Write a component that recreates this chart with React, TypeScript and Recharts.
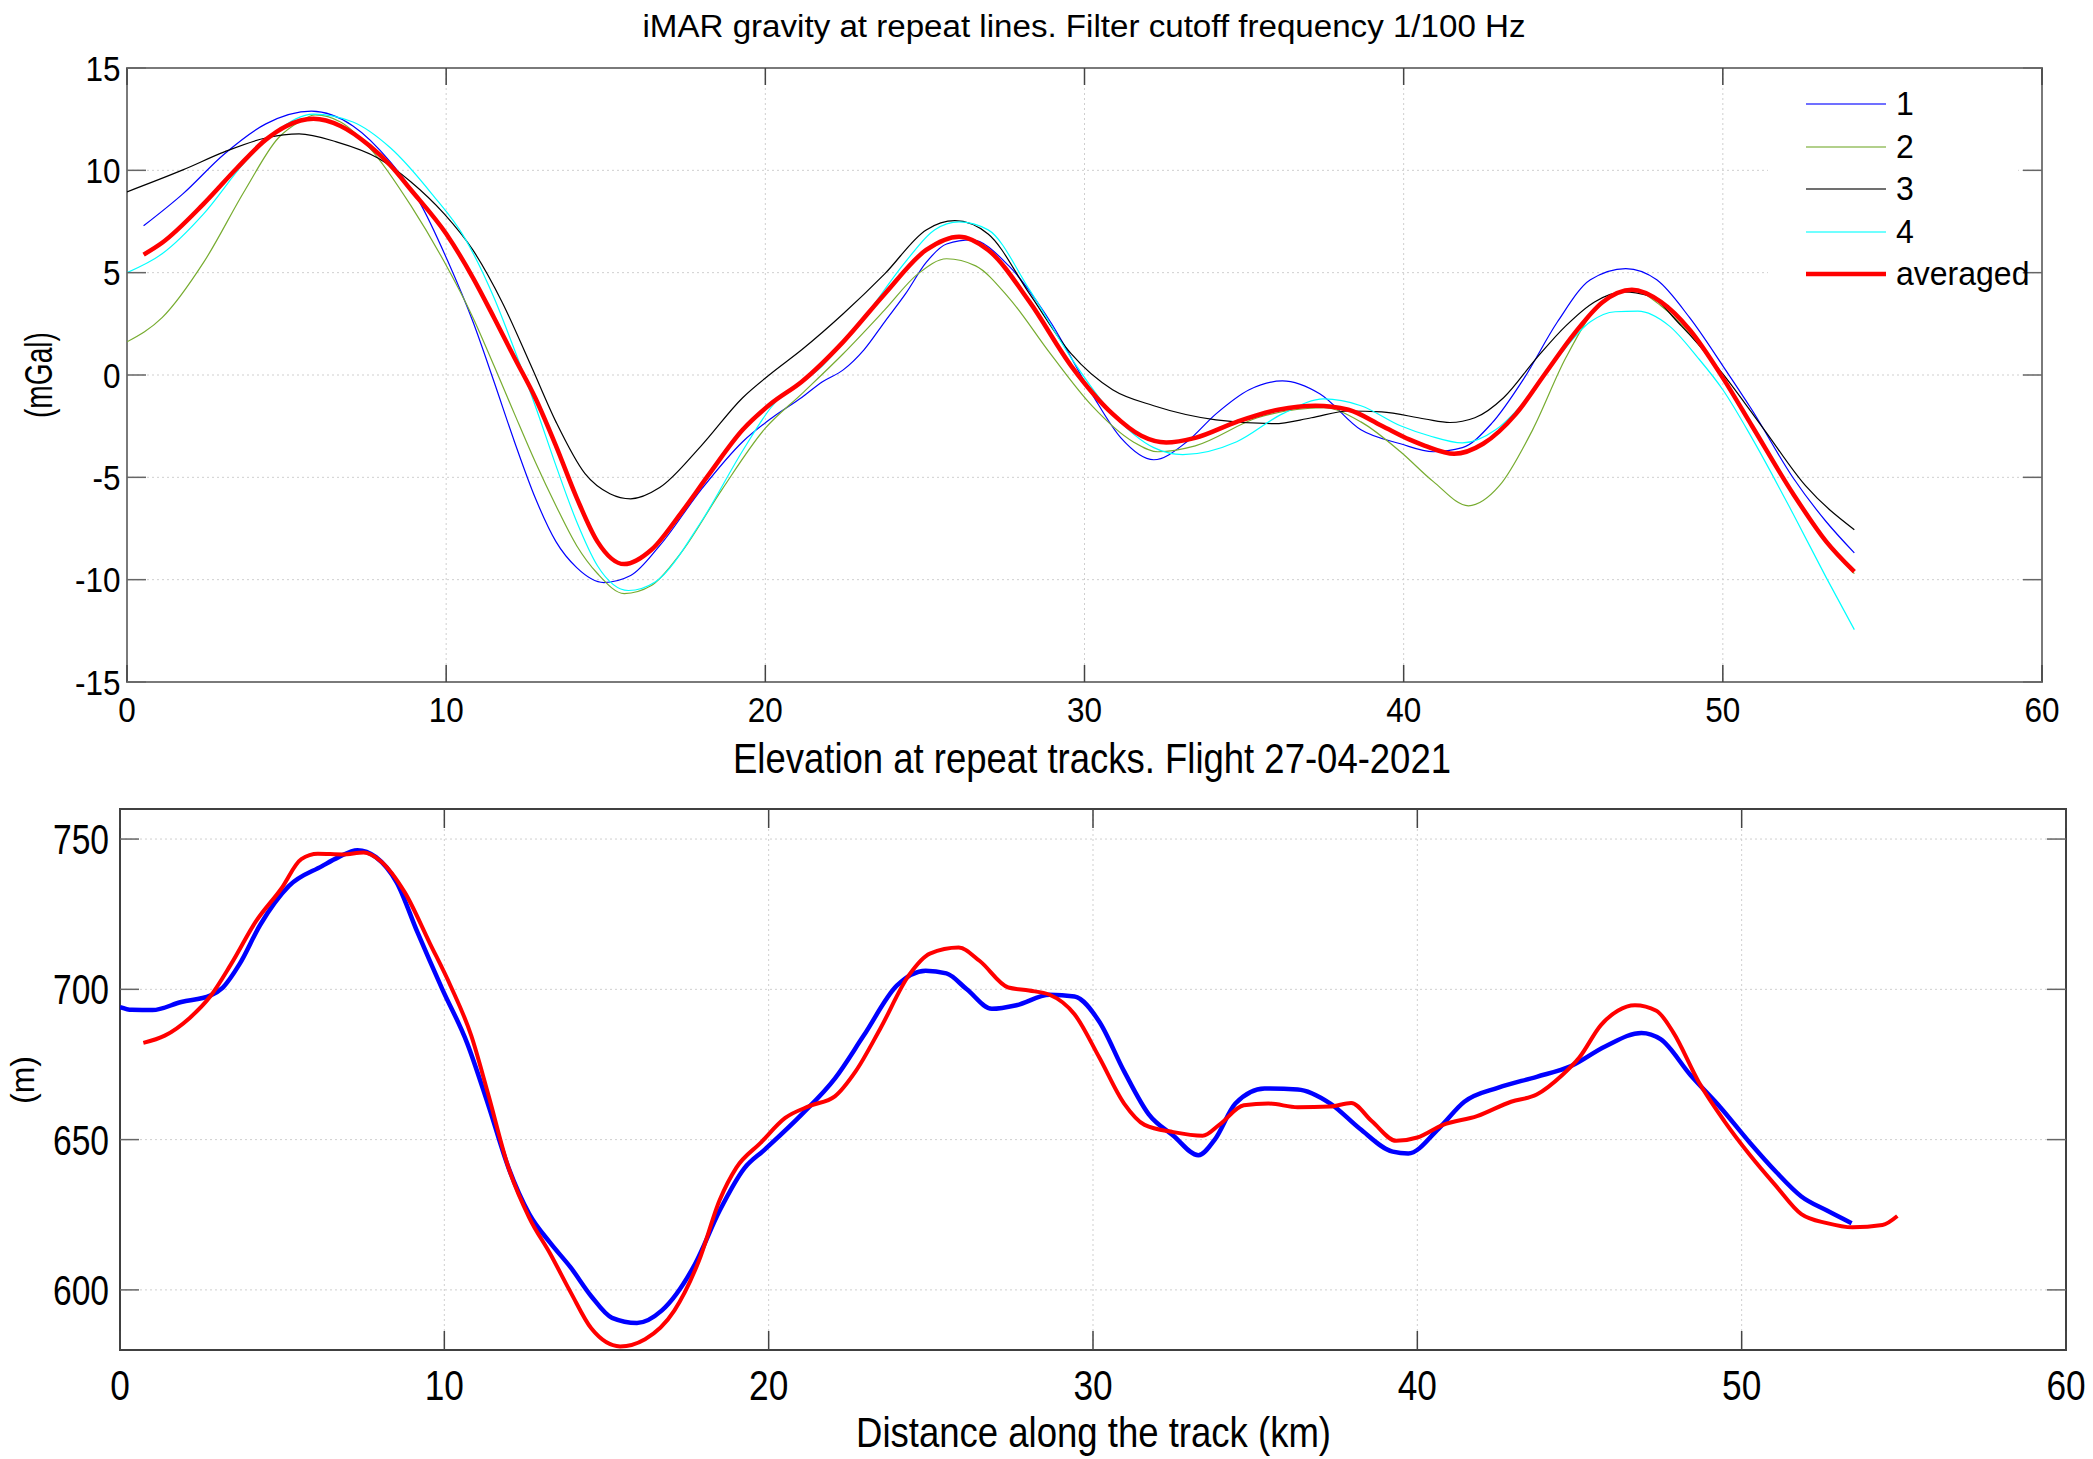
import React from 'react';
import { LineChart, Line, XAxis, YAxis, CartesianGrid, ReferenceArea, Legend } from 'recharts';

const FONT = '"Liberation Sans", Arial, Helvetica, sans-serif';

// ---- tick labels ----
const distTicks = [0, 10, 20, 30, 40, 50, 60];
const gravityTicks = [-15, -10, -5, 0, 5, 10, 15];
const elevationTicks = [600, 650, 700, 750];

// ---- gravity (mGal) vs distance (km), repeat lines 1..4 and averaged ----
const run1: [number, number][] = [
  [0.52, 7.29], [1.75, 8.85], [3.05, 10.8], [4.35, 12.27], [5.78, 12.89], [7.08, 12.17], [8.25, 10.41],
  [9.16, 8.46], [10.06, 5.53], [10.84, 2.6], [11.5, -0.33], [12.14, -3.26], [12.79, -6.0], [13.44, -8.14],
  [14.09, -9.41], [14.94, -10.14], [15.78, -9.8], [16.69, -8.34], [17.99, -5.6], [19.29, -3.26], [20.2, -2.1],
  [21.14, -1.1], [21.79, -0.33], [22.44, 0.25], [23.09, 1.23], [23.74, 2.6], [24.39, 3.96], [25.04, 5.5],
  [25.68, 6.4], [26.46, 6.6], [27.63, 5.33], [28.93, 2.6], [30.23, -0.92], [31.14, -3.07], [32.17, -4.14],
  [33.21, -3.26], [34.12, -1.9], [35.16, -0.72], [36.2, -0.29], [37.37, -0.92], [38.66, -2.68], [39.9, -3.36],
  [40.93, -3.75], [41.84, -3.55], [42.75, -2.38], [43.78, -0.14], [44.82, 2.6], [45.85, 4.65], [46.96, 5.2],
  [47.93, 4.65], [48.96, 2.8], [50.0, 0.45], [50.91, -1.7], [52.2, -5.02], [53.24, -7.17], [54.12, -8.69],
];
const run2: [number, number][] = [
  [0, 1.62], [1.1, 2.8], [2.4, 5.5], [3.7, 9.04], [4.74, 11.58], [5.39, 12.36], [5.9, 12.71], [6.69, 12.36],
  [7.6, 11.1], [8.9, 8.26], [9.94, 5.53], [10.84, 2.8], [11.5, 0.45], [12.14, -1.9], [12.79, -4.24],
  [13.44, -6.39], [14.09, -8.34], [14.74, -9.7], [15.58, -10.68], [16.43, -10.29], [17.34, -8.73],
  [18.64, -5.6], [20.0, -2.6], [21.14, -0.92], [22.44, 1.04], [23.74, 3.18], [24.78, 4.94], [25.68, 5.68],
  [26.59, 5.33], [27.63, 3.77], [28.93, 1.04], [30.23, -1.5], [31.52, -3.26], [32.3, -3.75], [33.47, -3.46],
  [35.42, -2.09], [37.5, -1.6], [38.66, -2.29], [39.9, -3.75], [40.93, -5.21], [42.03, -6.39], [43.0, -5.41],
  [44.04, -2.68], [45.08, 0.84], [46.11, 3.38], [47.15, 4.16], [48.06, 3.38], [48.96, 2.01], [50.0, -0.14],
  [50.91, -2.48], [52.2, -5.8], [53.24, -8.14], [54.12, -9.71],
];
const run3: [number, number][] = [
  [0, 8.95], [1.75, 10.02], [3.05, 10.9], [4.35, 11.58], [5.39, 11.78], [6.56, 11.39], [7.86, 10.6],
  [8.9, 9.43], [9.94, 7.87], [10.84, 6.1], [11.75, 3.57], [12.66, 0.45], [13.44, -2.29], [14.35, -4.82],
  [15.13, -5.8], [15.78, -6.05], [16.69, -5.5], [17.99, -3.46], [19.29, -1.11], [20.17, 0.06], [21.14, 1.23],
  [22.44, 2.99], [23.74, 4.94], [25.04, 7.09], [25.94, 7.54], [26.98, 6.89], [28.28, 3.96], [29.58, 1.04],
  [30.88, -0.72], [32.17, -1.5], [34.12, -2.19], [35.94, -2.38], [37.11, -2.09], [38.27, -1.76],
  [39.31, -1.8], [40.67, -2.15], [41.45, -2.32], [42.23, -2.09], [43.13, -1.11], [44.17, 0.84], [45.08, 2.4],
  [45.98, 3.57], [46.89, 4.06], [47.67, 3.87], [48.7, 2.4], [50.0, 0.06], [51.3, -2.68], [52.59, -5.41],
  [54.12, -7.56],
];
const run4: [number, number][] = [
  [0, 5.0], [1.1, 5.92], [2.4, 7.87], [3.7, 10.41], [4.74, 11.97], [5.84, 12.75], [7.08, 12.36], [8.25, 11.1],
  [9.55, 8.85], [10.58, 6.7], [11.5, 3.77], [12.14, 1.23], [12.79, -1.5], [13.44, -4.43], [14.09, -7.17],
  [14.74, -9.32], [15.71, -10.53], [16.56, -10.1], [17.99, -7.17], [19.29, -3.7], [20.17, -1.6],
  [21.79, 0.45], [23.09, 2.8], [24.39, 5.53], [25.3, 7.09], [26.07, 7.48], [26.98, 7.09], [28.28, 4.16],
  [29.58, 0.84], [30.88, -1.9], [32.17, -3.55], [33.08, -3.89], [34.77, -3.26], [36.2, -1.9], [37.5, -1.17],
  [38.66, -1.5], [39.9, -2.48], [40.8, -2.97], [41.84, -3.32], [42.88, -2.68], [43.78, -1.31], [44.82, 0.84],
  [45.85, 2.6], [46.63, 3.09], [47.34, 3.12], [48.32, 2.4], [49.22, 0.84], [50.0, -0.72], [50.91, -3.07],
  [52.2, -6.78], [53.24, -9.9], [54.12, -12.44],
];
const runAveraged: [number, number][] = [
  [0.52, 5.88], [1.1, 6.46], [2.4, 8.36], [3.44, 10.1], [4.35, 11.5], [5.0, 12.17], [5.84, 12.52],
  [6.69, 12.17], [7.6, 11.2], [8.25, 10.25], [8.9, 9.04], [10, 6.9], [10.84, 4.75], [11.5, 2.8], [12.14, 0.84],
  [12.79, -1.11], [13.44, -3.46], [14.09, -6.0], [14.74, -8.14], [15.58, -9.24], [16.43, -8.54],
  [17.34, -6.78], [18.25, -4.82], [19.29, -2.68], [20.17, -1.41], [21.14, -0.33], [22.44, 1.62],
  [23.74, 3.96], [25.04, 6.11], [26.07, 6.76], [26.98, 6.11], [28.28, 3.57], [29.58, 0.45], [30.88, -1.9],
  [31.78, -2.97], [32.56, -3.3], [33.47, -3.07], [34.77, -2.29], [36.07, -1.7], [37.24, -1.5], [38.27, -1.7],
  [39.31, -2.48], [40.19, -3.16], [40.67, -3.46], [41.58, -3.85], [42.49, -3.36], [43.52, -1.9],
  [44.43, 0.06], [45.34, 2.01], [46.24, 3.57], [47.15, 4.16], [48.06, 3.57], [48.96, 2.21], [50.0, -0.14],
  [50.91, -2.48], [52.2, -5.8], [53.24, -8.14], [54.12, -9.61],
];

// ---- elevation (m) vs distance (km) ----
const elevationBlue: [number, number][] = [
  [0, 694.1], [0.36, 693.2], [1.0, 693.1], [1.89, 695.8], [2.78, 697.9], [3.17, 700.6], [3.68, 708.3],
  [4.32, 721.4], [5.21, 734.4], [6.23, 741], [6.74, 744], [7.32, 746.3], [7.89, 744], [8.53, 735.6],
  [9.17, 719], [9.94, 700], [10.7, 682.2], [11.34, 662], [11.98, 640.6], [12.62, 625.2], [13.26, 615.7],
  [13.9, 607.4], [14.53, 597.9], [15.17, 590.7], [15.94, 589], [16.7, 593.1], [17.73, 608.6], [18.49, 626.4],
  [19.26, 640.6], [19.87, 646.6], [21.02, 658.4], [22.04, 670.3], [22.93, 684.6], [23.95, 701.2],
  [24.84, 706.2], [25.48, 705.3], [26.11, 700], [26.88, 693.5], [27.64, 694.7], [28.66, 698.2],
  [29.43, 697.6], [30.19, 689.3], [30.96, 672.7], [31.72, 658.4], [32.48, 651.3], [33.25, 644.8],
  [33.76, 650.1], [34.39, 662], [35.29, 667], [36.31, 666.7], [37.32, 662], [38.22, 653.7], [39.24, 646],
  [39.72, 645.4], [40.66, 653.7], [41.45, 662.6], [42.5, 667.3], [43.68, 670.9], [44.74, 674.5],
  [45.79, 681], [46.91, 685.5], [47.5, 683.4], [48.42, 671.5], [49.34, 660.8], [50.26, 648.9],
  [51.05, 639.4], [51.84, 631.1], [52.63, 626.4], [53.39, 622.2],
];
const elevationRed: [number, number][] = [
  [0.72, 682.2], [1.38, 684.6], [2.15, 690.5], [2.78, 697.6], [3.42, 708.3], [4.19, 722.6], [4.96, 733.3],
  [5.59, 743.3], [6.1, 745.1], [6.87, 744.9], [7.51, 745.5], [8.02, 742.8], [8.79, 732.1], [9.55, 715.4],
  [10.19, 701.2], [10.83, 684.6], [11.34, 665.6], [11.98, 640.6], [12.62, 624], [13.26, 612.1],
  [13.9, 599.1], [14.53, 587.2], [15.42, 581.2], [16.19, 583.6], [17.09, 593.1], [17.85, 609.7],
  [18.49, 629.9], [19.0, 640.6], [19.75, 648.9], [20.51, 657.2], [21.27, 661.2], [22.04, 664.4],
  [22.68, 672.7], [23.44, 686.9], [24.33, 704.8], [24.97, 711.9], [25.86, 713.9], [26.5, 709.5],
  [27.39, 700.6], [28.03, 699.6], [28.66, 698.2], [29.43, 691.7], [30.19, 677.4], [30.96, 662],
  [31.59, 654.9], [32.48, 652.5], [33.38, 651.3], [33.89, 654.9], [34.65, 661.4], [35.41, 662],
  [36.31, 660.8], [37.32, 661], [37.96, 662.2], [38.6, 656.1], [39.35, 649.6], [40.0, 650.7],
  [40.79, 654.9], [41.84, 657.8], [42.89, 662.6], [43.68, 665], [44.47, 671.5], [45.0, 677.4],
  [45.66, 688.1], [46.18, 692.9], [46.71, 694.7], [47.37, 692.9], [47.89, 685.7], [48.68, 669.1],
  [49.47, 656.1], [50.26, 644.8], [51.05, 634.7], [51.84, 625.2], [52.63, 622.2], [53.42, 620.8],
  [54.34, 621.6], [54.8, 624.6],
];

const seriesNames = ['1', '2', '3', '4', 'averaged'];
const seriesColors = ['#0000ff', '#77ac30', '#000000', '#00ffff', '#ff0000'];
const seriesWidths = [1.2, 1.2, 1.2, 1.2, 4.5];
const gravityRuns = [run1, run2, run3, run4, runAveraged];

const toRows = (pts: [number, number][]) => pts.map(([x, y]) => ({ x, y }));

function makeXTick(o: { len: number; plotH: number; base: number; font: number; sx: number; color: string }) {
  return (p: any) => {
    const { x, y, payload } = p;
    return (
      <g>
        <line x1={x} x2={x} y1={y} y2={y - o.len} stroke={o.color} strokeWidth={1.5} />
        <line x1={x} x2={x} y1={y - o.plotH} y2={y - o.plotH + o.len} stroke={o.color} strokeWidth={1.5} />
        <text
          transform={`translate(${x},${y + o.base}) scale(${o.sx},1)`}
          textAnchor="middle"
          fontFamily={FONT}
          fontSize={o.font}
          fill="#000"
        >
          {payload.value}
        </text>
      </g>
    );
  };
}

function makeYTick(o: { len: number; plotW: number; gap: number; font: number; sx: number; color: string }) {
  return (p: any) => {
    const { x, y, payload } = p;
    return (
      <g>
        <line x1={x} x2={x + o.len} y1={y} y2={y} stroke={o.color} strokeWidth={1.5} />
        <line x1={x + o.plotW} x2={x + o.plotW - o.len} y1={y} y2={y} stroke={o.color} strokeWidth={1.5} />
        <text
          transform={`translate(${x - o.gap},${y + o.font * 0.36}) scale(${o.sx},1)`}
          textAnchor="end"
          fontFamily={FONT}
          fontSize={o.font}
          fill="#000"
        >
          {payload.value}
        </text>
      </g>
    );
  };
}

const topXTick = makeXTick({ len: 17, plotH: 614, base: 39.7, font: 35, sx: 0.9, color: '#444' });
const topYTick = makeYTick({ len: 19, plotW: 1915, gap: 6.5, font: 35, sx: 0.9, color: '#666' });
const botXTick = makeXTick({ len: 19, plotH: 541, base: 50, font: 43, sx: 0.82, color: '#444' });
const botYTick = makeYTick({ len: 19, plotW: 1946, gap: 11, font: 42, sx: 0.8, color: '#666' });

function LegendBox() {
  return (
    <div style={{ background: '#fff', paddingTop: 0, paddingBottom: 14, width: 250, fontFamily: FONT }}>
      {seriesNames.map((name, i) => (
        <div key={name} style={{ height: 42.5, display: 'flex', alignItems: 'center', whiteSpace: 'nowrap' }}>
          <svg width={128} height={20} style={{ flex: 'none' }}>
            <line x1={38} x2={118} y1={10} y2={10} stroke={seriesColors[i]} strokeWidth={i === 4 ? 4.5 : 1.5} strokeOpacity={i === 4 ? 1 : 0.75} />
          </svg>
          <span style={{ fontSize: 33, lineHeight: '42px', color: '#000', display: 'inline-block', transform: 'scaleX(0.97)', transformOrigin: 'left center' }}>
            {name}
          </span>
        </div>
      ))}
    </div>
  );
}

export default function App() {
  return (
    <div style={{ position: 'absolute', left: 0, top: 0, width: 2093, height: 1459, background: '#fff', overflow: 'hidden' }}>
      <div style={{ position: 'absolute', left: 0, top: 0 }}>
        <LineChart width={2093} height={740} margin={{ top: 68, right: 51, bottom: 0, left: 0 }}>
          <CartesianGrid stroke="#cfcfcf" strokeDasharray="2 3" />
          <XAxis
            dataKey="x"
            type="number"
            domain={[0, 60]}
            ticks={distTicks}
            interval={0}
            height={58}
            tickLine={false}
            axisLine={false}
            tickSize={0}
            tickMargin={0}
            tick={topXTick}
            allowDataOverflow
          />
          <YAxis
            type="number"
            domain={[-15, 15]}
            ticks={gravityTicks}
            interval={0}
            width={127}
            tickLine={false}
            axisLine={false}
            tickSize={0}
            tickMargin={0}
            tick={topYTick}
            allowDataOverflow
          />
          {gravityRuns.map((run, i) => (
            <Line
              key={seriesNames[i]}
              name={seriesNames[i]}
              data={toRows(run)}
              dataKey="y"
              type="monotone"
              stroke={seriesColors[i]}
              strokeWidth={seriesWidths[i]}
              dot={false}
              activeDot={false}
              isAnimationActive={false}
            />
          ))}
          <ReferenceArea x1={0} x2={60} y1={-15} y2={15} fill="none" stroke="#7a7a7a" strokeWidth={2} ifOverflow="visible" />
          <Legend
            layout="vertical"
            align="center"
            verticalAlign="middle"
            content={() => <LegendBox />}
            wrapperStyle={{ position: 'absolute', left: 1768, top: 83, width: 250, height: 226 }}
          />
        </LineChart>
      </div>

      <div style={{ position: 'absolute', left: 0, top: 740 }}>
        <LineChart width={2093} height={719} margin={{ top: 69, right: 27, bottom: 0, left: 0 }}>
          <CartesianGrid stroke="#cfcfcf" strokeDasharray="2 3" />
          <XAxis
            dataKey="x"
            type="number"
            domain={[0, 60]}
            ticks={distTicks}
            interval={0}
            height={109}
            tickLine={false}
            axisLine={false}
            tickSize={0}
            tickMargin={0}
            tick={botXTick}
            allowDataOverflow
          />
          <YAxis
            type="number"
            domain={[580, 760]}
            ticks={elevationTicks}
            interval={0}
            width={120}
            tickLine={false}
            axisLine={false}
            tickSize={0}
            tickMargin={0}
            tick={botYTick}
            allowDataOverflow
          />
          <Line
            data={toRows(elevationBlue)}
            dataKey="y"
            type="monotone"
            stroke="#0000ff"
            strokeWidth={4.5}
            dot={false}
            activeDot={false}
            isAnimationActive={false}
          />
          <Line
            data={toRows(elevationRed)}
            dataKey="y"
            type="monotone"
            stroke="#ff0000"
            strokeWidth={4}
            dot={false}
            activeDot={false}
            isAnimationActive={false}
          />
          <ReferenceArea x1={0} x2={60} y1={580} y2={760} fill="none" stroke="#404040" strokeWidth={2} ifOverflow="visible" />
        </LineChart>
      </div>

      <svg width={2093} height={1459} style={{ position: 'absolute', left: 0, top: 0, pointerEvents: 'none' }}>
        <text x={1084} y={37} textAnchor="middle" fontFamily={FONT} fontSize={31} textLength={883} lengthAdjust="spacingAndGlyphs" fill="#000">
          iMAR gravity at repeat lines. Filter cutoff frequency 1/100 Hz
        </text>
        <text x={1092} y={773} textAnchor="middle" fontFamily={FONT} fontSize={43} textLength={718} lengthAdjust="spacingAndGlyphs" fill="#000">
          Elevation at repeat tracks. Flight 27-04-2021
        </text>
        <text transform="translate(52,375) rotate(-90)" textAnchor="middle" fontFamily={FONT} fontSize={38} textLength={86} lengthAdjust="spacingAndGlyphs" fill="#000">
          (mGal)
        </text>
        <text x={1093.5} y={1447} textAnchor="middle" fontFamily={FONT} fontSize={43} textLength={475} lengthAdjust="spacingAndGlyphs" fill="#000">
          Distance along the track (km)
        </text>
        <text transform="translate(34,1080) rotate(-90)" textAnchor="middle" fontFamily={FONT} fontSize={33} textLength={48} lengthAdjust="spacingAndGlyphs" fill="#000">
          (m)
        </text>
      </svg>
    </div>
  );
}
